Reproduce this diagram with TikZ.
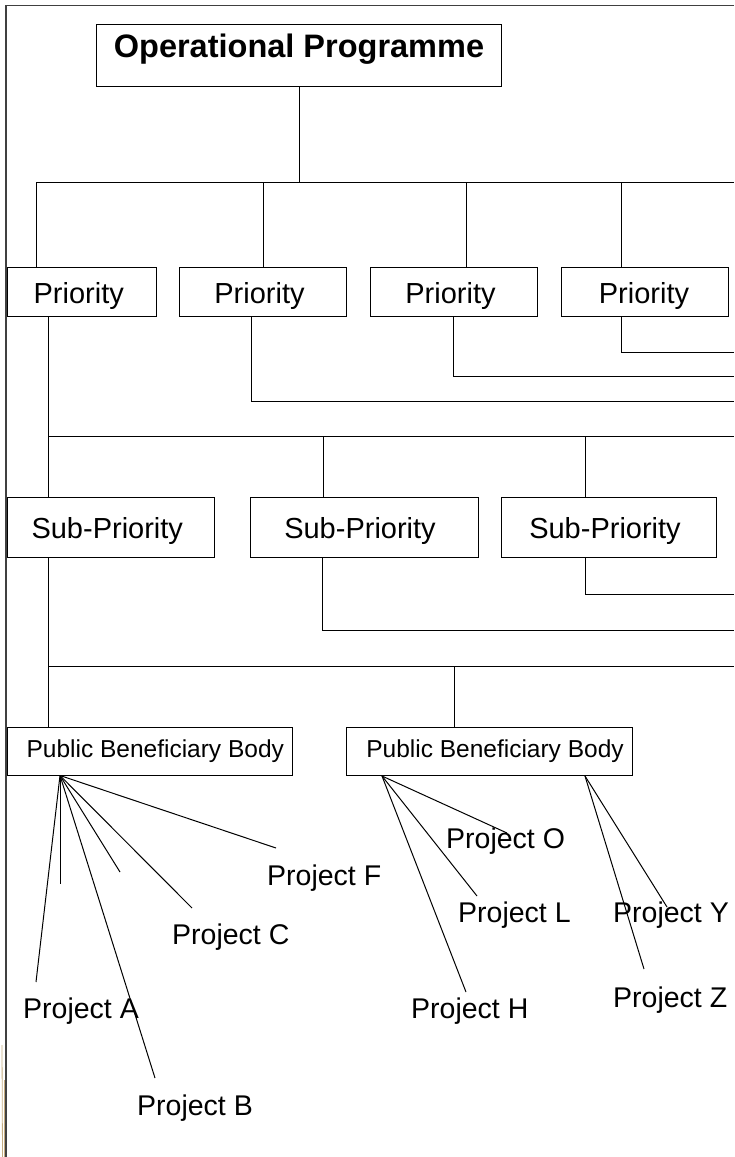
\documentclass[tikz,border=0pt]{standalone}
\usepackage{fontspec}
\setmainfont{Liberation Sans}
\usetikzlibrary{calc}
\begin{document}
\begin{tikzpicture}[x=1pt,y=-1pt,
  box/.style={draw=black,line width=1pt,inner sep=0pt,anchor=north west},
  conn/.style={line width=1pt,black},
  lab/.style={inner sep=0pt,anchor=base west,font=\fontsize{28.5}{30}\selectfont},
  opfont/.style={font=\bfseries\fontsize{32.5}{34}\selectfont,text height=17pt,text depth=12.5pt},
  prfont/.style={font=\fontsize{29}{31}\selectfont,text height=29pt,text depth=6pt},
  spfont/.style={font=\fontsize{29}{31}\selectfont,text height=28pt,text depth=6pt},
  pbfont/.style={font=\fontsize{24.5}{26}\selectfont},
  framel/.style={line width=1.5pt,black!75},
  deco/.style={line width=0.8pt,color={rgb,255:red,196;green,172;blue,128}}
  ]
\useasboundingbox (0,0) rectangle (734,1157);

% frame
\coordinate (ftr) at (734,5.5);
\coordinate (ftl) at (6,5.5);
\coordinate (fbl) at (6,1157);
\draw[framel] (ftr) -- (ftl) -- (fbl);

% small decoration at lower left edge
\coordinate (d1) at (2,1045);
\coordinate (d2) at (2.5,1157);
\coordinate (d3) at (4.5,1080);
\coordinate (d4) at (4.5,1157);
\draw[deco] (d1) -- (d2);
\draw[deco] (d3) -- (d4);

% boxes
\node[box,opfont,minimum width=405,minimum height=62] (op) at (96,24) {Operational Programme};

\node[box,prfont,minimum width=149.5,minimum height=49] (p1) at (6.5,267) {Priority\hspace*{6pt}};
\node[box,prfont,minimum width=167,minimum height=49] (p2) at (179,267) {Priority\hspace*{7pt}};
\node[box,prfont,minimum width=167,minimum height=49] (p3) at (370,267) {Priority\hspace*{7pt}};
\node[box,prfont,minimum width=167,minimum height=49] (p4) at (561,267) {Priority\hspace*{2pt}};

\node[box,spfont,minimum width=207.5,minimum height=60] (s1) at (6.5,497) {Sub-Priority\hspace*{7pt}};
\node[box,spfont,minimum width=228,minimum height=60] (s2) at (250,497) {Sub-Priority\hspace*{9pt}};
\node[box,spfont,minimum width=215,minimum height=60] (s3) at (501,497) {Sub-Priority\hspace*{8pt}};

\node[box,pbfont,minimum width=285.5,minimum height=47.5] (b1) at (6.5,727) {\hspace*{11pt}Public Beneficiary Body};
\node[box,pbfont,minimum width=286,minimum height=48] (b2) at (346,727) {\hspace*{11pt}Public Beneficiary Body};

% level 1 connectors
\coordinate (r1) at (734,182);
\coordinate (v1) at (36,182);
\coordinate (v2) at (263,182);
\coordinate (v3) at (466,182);
\coordinate (v4) at (621,182);
\draw[conn] (op.south) -- (op.south |- r1);
\draw[conn] (v1) -- (r1);
\draw[conn] (v1) -- (v1 |- p1.north);
\draw[conn] (v2) -- (v2 |- p2.north);
\draw[conn] (v3) -- (v3 |- p3.north);
\draw[conn] (v4) -- (v4 |- p4.north);

% priority outgoing lines
\coordinate (q1) at (48,436);
\coordinate (q2) at (251,401);
\coordinate (q3) at (453,376);
\coordinate (q4) at (621,352);
\coordinate (rq2) at (734,401);
\coordinate (rq3) at (734,376);
\coordinate (rq4) at (734,352);
\draw[conn] (q2 |- p2.south) -- (q2) -- (rq2);
\draw[conn] (q3 |- p3.south) -- (q3) -- (rq3);
\draw[conn] (q4 |- p4.south) -- (q4) -- (rq4);

% level 2
\coordinate (r2) at (734,436);
\coordinate (w2) at (323,436);
\coordinate (w3) at (585,436);
\draw[conn] (q1 |- p1.south) -- (q1 |- s1.north);
\draw[conn] (q1) -- (r2);
\draw[conn] (w2) -- (w2 |- s2.north);
\draw[conn] (w3) -- (w3 |- s3.north);

% sub-priority outgoing lines
\coordinate (t1) at (48,666);
\coordinate (t2) at (322,630);
\coordinate (t3) at (585,594);
\coordinate (rt2) at (734,630);
\coordinate (rt3) at (734,594);
\draw[conn] (t2 |- s2.south) -- (t2) -- (rt2);
\draw[conn] (t3 |- s3.south) -- (t3) -- (rt3);

% level 3
\coordinate (r3) at (734,666);
\coordinate (u2) at (454,666);
\draw[conn] (t1 |- s1.south) -- (t1 |- b1.north);
\draw[conn] (t1) -- (r3);
\draw[conn] (u2) -- (u2 |- b2.north);

% project labels
\node[lab] (pa) at (23,1018) {Project A};
\node[lab] (pb) at (137,1115) {Project B};
\node[lab] (pc) at (172,944) {Project C};
\node[lab] (pf) at (267,885) {Project F};
\node[lab] (po) at (446,848) {Project O};
\node[lab] (pl) at (458,922) {Project L};
\node[lab] (ph) at (411,1018) {Project H};
\node[lab] (py) at (613,922) {Project Y};
\node[lab] (pz) at (613,1007) {Project Z};

% fan origins
\coordinate (fa) at ($(b1.south west)+(53.5,0)$);
\coordinate (fb) at ($(b2.south west)+(36,0)$);
\coordinate (fc) at ($(b2.south west)+(239,0)$);
\coordinate (e1) at (60,884);
\coordinate (e2) at (120,872);

\draw[conn] (fa) -- ([shift={(13,-36)}]pa.base west);
\draw[conn] (fa) -- ([shift={(18,-37)}]pb.base west);
\draw[conn] (fa) -- ([shift={(20,-36)}]pc.base west);
\draw[conn] (fa) -- ([shift={(9,-37)}]pf.base west);
\draw[conn] (fa) -- (e1);
\draw[conn] (fa) -- (e2);

\draw[conn] (fb) -- ([shift={(61,-15)}]po.base west);
\draw[conn] (fb) -- ([shift={(19,-26)}]pl.base west);
\draw[conn] (fb) -- ([shift={(55,-26)}]ph.base west);

\draw[conn] (fc) -- ([shift={(54,-15)}]py.base west);
\draw[conn] (fc) -- ([shift={(31,-38)}]pz.base west);
\end{tikzpicture}
\end{document}
